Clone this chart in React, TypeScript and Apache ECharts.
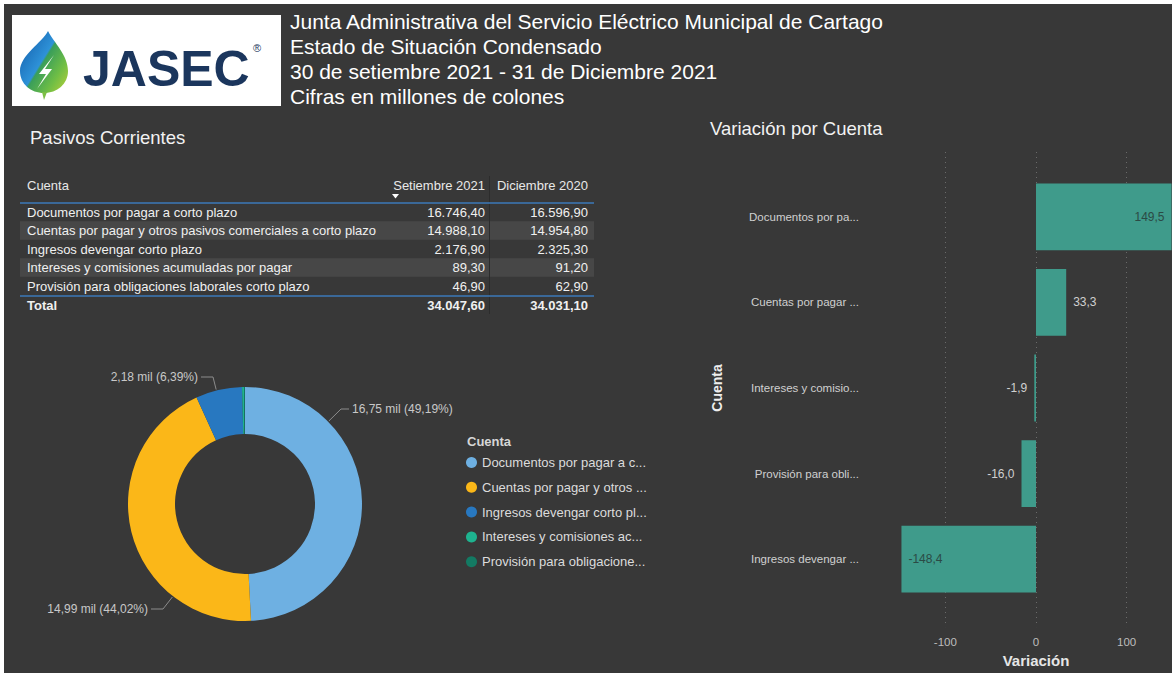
import React, { useEffect, useRef } from 'react';
import * as echarts from 'echarts';

const FF = 'Liberation Sans, Arial, sans-serif';

const titleLines = [
  'Junta Administrativa del Servicio Eléctrico Municipal de Cartago',
  'Estado de Situación Condensado',
  '30 de setiembre 2021 - 31 de Diciembre 2021',
  'Cifras en millones de colones',
];
const tableHeaders = ['Cuenta', 'Setiembre 2021', 'Diciembre 2020'];
const cuentas = [
  'Documentos por pagar a corto plazo',
  'Cuentas por pagar y otros pasivos comerciales a corto plazo',
  'Ingresos devengar corto plazo',
  'Intereses y comisiones acumuladas por pagar',
  'Provisión para obligaciones laborales corto plazo',
];
const legendLabels = [
  'Documentos por pagar a c...',
  'Cuentas por pagar y otros ...',
  'Ingresos devengar corto pl...',
  'Intereses y comisiones ac...',
  'Provisión para obligacione...',
];
const setiembre2021 = [16746.4, 14988.1, 2176.9, 89.3, 46.9];
const diciembre2020 = [16596.9, 14954.8, 2325.3, 91.2, 62.9];
const pieColors = ['#6eb0e2', '#fbb718', '#2878c0', '#1eb38f', '#137a63'];

const barCategories = [
  'Documentos por pagar a corto plazo',
  'Cuentas por pagar y otros pasivos comerciales a corto plazo',
  'Intereses y comisiones acumuladas por pagar',
  'Provisión para obligaciones laborales corto plazo',
  'Ingresos devengar corto plazo',
];
const barCategoryLabels = [
  'Documentos por pa...',
  'Cuentas por pagar ...',
  'Intereses y comisio...',
  'Provisión para obli...',
  'Ingresos devengar ...',
];
const variacion = [149.5, 33.3, -1.9, -16.0, -148.4];
const xTickValues = [-100, 0, 100];

function fmtEs(v: number, d: number): string {
  const s = Math.abs(v).toFixed(d);
  const [i, f] = s.split('.');
  const ii = i.replace(/\B(?=(\d{3})+(?!\d))/g, '.');
  return (v < 0 ? '-' : '') + ii + (f ? ',' + f : '');
}

let registered = false;
function registerShapes() {
  if (registered) return;
  registered = true;
  const drop = echarts.graphic.extendPath(
    'M28,0 C34,12 48,24 48,40 C48,53 37,62 24,62 C11,62 0,53 0,40 C0,24 22,12 28,0 Z',
    {}
  );
  echarts.graphic.registerShape('jasecDrop', drop);
}

function txt(x: number, y: number, text: string, size: number, fill: string, opts: any = {}) {
  const weight = opts.bold ? 'bold ' : '';
  return {
    type: 'text',
    x,
    y,
    silent: true,
    style: {
      text,
      font: `${weight}${size}px ${FF}`,
      fill,
      align: opts.align || 'left',
      textAlign: opts.align || 'left',
      verticalAlign: 'middle',
      textVerticalAlign: 'middle',
    },
  };
}

function buildGraphic(): any[] {
  const g: any[] = [];
  // logo
  g.push({ type: 'rect', silent: true, shape: { x: 12, y: 15, width: 269, height: 91 }, style: { fill: '#ffffff' } });
  g.push({
    type: 'jasecDrop',
    x: 20,
    y: 31,
    silent: true,
    style: {
      fill: {
        type: 'linear', x: 0, y: 0.15, x2: 1, y2: 0.95,
        colorStops: [
          { offset: 0, color: '#1460ad' },
          { offset: 0.44, color: '#2e92d8' },
          { offset: 0.47, color: '#3a9e5a' },
          { offset: 0.75, color: '#6fbe45' },
          { offset: 1, color: '#b5cf3a' },
        ],
      },
    },
  });
  g.push({ type: 'polygon', silent: true, shape: { points: [[42, 92], [47, 92], [44, 100]] }, style: { fill: '#7cbf45' } });
  g.push({
    type: 'polygon',
    silent: true,
    shape: { points: [[54, 55], [39, 74], [46, 74], [37, 89], [52, 69], [45, 69]] },
    style: { fill: '#ffffff' },
  });
  g.push(txt(83, 69, 'JASEC', 50, '#1b365d', { bold: true }));
  g.push(txt(253, 48, '®', 11, '#1b365d'));

  // titles
  titleLines.forEach((t, i) => g.push(txt(290, 21 + i * 25, t, 21, '#ffffff')));
  g.push(txt(30, 137, 'Pasivos Corrientes', 18.5, '#f2f2f2'));
  g.push(txt(710, 128, 'Variación por Cuenta', 18.5, '#f2f2f2'));

  // table
  const colRight = [0, 485, 588];
  const rowY0 = 212;
  const rowStep = 18.5;
  const fs = 13;
  cuentas.forEach((_, i) => {
    if (i % 2 === 1) {
      g.push({ type: 'rect', silent: true, shape: { x: 20, y: rowY0 + i * rowStep - 9.25, width: 574, height: rowStep }, style: { fill: '#474747' } });
    }
  });
  g.push({ type: 'line', silent: true, shape: { x1: 489.5, y1: 176, x2: 489.5, y2: 314 }, style: { stroke: '#2c2c2c', lineWidth: 1 } });
  g.push(txt(27, 185, tableHeaders[0], fs, '#e8e8e8'));
  g.push(txt(colRight[1], 185, tableHeaders[1], fs, '#e8e8e8', { align: 'right' }));
  g.push(txt(colRight[2], 185, tableHeaders[2], fs, '#e8e8e8', { align: 'right' }));
  g.push({ type: 'polygon', silent: true, shape: { points: [[392, 194], [399, 194], [395.5, 198.5]] }, style: { fill: '#ffffff' } });
  g.push({ type: 'line', silent: true, shape: { x1: 20, y1: 203, x2: 594, y2: 203 }, style: { stroke: '#3b78b8', lineWidth: 1.5 } });
  cuentas.forEach((c, i) => {
    const y = rowY0 + i * rowStep;
    g.push(txt(27, y, c, fs, '#f0f0f0'));
    g.push(txt(colRight[1], y, fmtEs(setiembre2021[i], 2), fs, '#f0f0f0', { align: 'right' }));
    g.push(txt(colRight[2], y, fmtEs(diciembre2020[i], 2), fs, '#f0f0f0', { align: 'right' }));
  });
  g.push({ type: 'line', silent: true, shape: { x1: 20, y1: 296, x2: 594, y2: 296 }, style: { stroke: '#3b78b8', lineWidth: 1.5 } });
  const tot1 = setiembre2021.reduce((a, b) => a + b, 0);
  const tot2 = diciembre2020.reduce((a, b) => a + b, 0);
  g.push(txt(27, 305, 'Total', fs, '#f0f0f0', { bold: true }));
  g.push(txt(colRight[1], 305, fmtEs(tot1, 2), fs, '#f0f0f0', { bold: true, align: 'right' }));
  g.push(txt(colRight[2], 305, fmtEs(tot2, 2), fs, '#f0f0f0', { bold: true, align: 'right' }));

  // legend title
  g.push(txt(467, 441, 'Cuenta', 13, '#d6d6d6', { bold: true }));
  return g;
}

const PIE_CX = 245;
const PIE_CY = 504;
const PIE_R = [70, 117];
// label anchor offsets relative to pie centre: [dx, dy, align, elbow length]
const pieLabelOffsets: [number, number, string, number][] = [
  [107, -95, 'left', 8],
  [-97, 105, 'right', 12],
  [-47, -127, 'right', 12],
];

function pieLabelLayout(p: any) {
  const o = pieLabelOffsets[p.dataIndex];
  if (!o) return {};
  const lx = PIE_CX + o[0];
  const ly = PIE_CY + o[1];
  const dir = o[2] === 'left' ? -1 : 1;
  const end = [lx + dir * 3, ly];
  const elbow = [lx + dir * (3 + o[3]), ly];
  const dx = elbow[0] - PIE_CX;
  const dy = elbow[1] - PIE_CY;
  const len = Math.sqrt(dx * dx + dy * dy);
  const r = PIE_R[1] + 1;
  const start = [PIE_CX + (dx / len) * r, PIE_CY + (dy / len) * r];
  return { x: lx, y: ly, align: o[2], verticalAlign: 'middle', labelLinePoints: [start, elbow, end] };
}

function buildOption(): any {
  return {
    animation: false,
    backgroundColor: 'transparent',
    textStyle: { fontFamily: FF },
    graphic: { elements: buildGraphic() },
    legend: {
      orient: 'vertical',
      left: 466,
      top: 456,
      padding: 0,
      icon: 'circle',
      itemWidth: 11,
      itemHeight: 11,
      itemGap: 11.8,
      selectedMode: false,
      data: cuentas,
      formatter: (name: string) => legendLabels[cuentas.indexOf(name)],
      textStyle: { color: '#dcdcdc', fontSize: 13, fontFamily: FF },
    },
    grid: [
      { left: 900, top: 174, width: 272, height: 428 },
      { left: 900, top: 152, width: 272, height: 478 },
    ],
    xAxis: [
      { gridIndex: 0, type: 'value', min: -150, max: 150, interval: 50, show: false },
      {
        gridIndex: 1,
        type: 'value',
        min: -150,
        max: 150,
        interval: 50,
        axisLine: { show: false },
        axisTick: { show: false, customValues: xTickValues },
        axisLabel: { customValues: xTickValues, color: '#bdbdbd', fontSize: 11.5, margin: 9 },
        splitLine: { show: true, lineStyle: { color: '#6a6a6a', type: [1, 4], width: 1 } },
        name: 'Variación',
        nameLocation: 'middle',
        nameGap: 22,
        nameTextStyle: { color: '#e6e6e6', fontSize: 15, fontWeight: 'bold' },
      },
    ],
    yAxis: [
      {
        gridIndex: 0,
        type: 'category',
        data: barCategories,
        inverse: true,
        axisLine: { show: false },
        axisTick: { show: false },
        splitLine: { show: false },
        axisLabel: {
          color: '#d0d0d0',
          fontSize: 11.5,
          margin: 41,
          formatter: (v: string) => barCategoryLabels[barCategories.indexOf(v)],
        },
        name: 'Cuenta',
        nameLocation: 'middle',
        nameRotate: 90,
        nameGap: 176,
        nameTextStyle: { color: '#eeeeee', fontSize: 14, fontWeight: 'bold' },
      },
      { gridIndex: 1, type: 'value', min: 0, max: 1, show: false },
    ],
    series: [
      {
        type: 'pie',
        name: 'Cuenta',
        center: [PIE_CX, PIE_CY],
        radius: PIE_R,
        startAngle: 90,
        clockwise: true,
        minShowLabelAngle: 3,
        avoidLabelOverlap: false,
        data: cuentas.map((c, i) => ({ name: c, value: setiembre2021[i], itemStyle: { color: pieColors[i] } })),
        label: {
          show: true,
          color: '#c8c8c8',
          fontSize: 12,
          formatter: (p: any) => `${fmtEs(p.value / 1000, 2)} mil (${fmtEs(p.percent, 2)}%)`,
        },
        labelLine: { show: true, length: 10, length2: 12, lineStyle: { color: '#8c8c8c', width: 1 } },
        labelLayout: pieLabelLayout,
        emphasis: { disabled: true },
      },
      {
        type: 'bar',
        xAxisIndex: 0,
        yAxisIndex: 0,
        barCategoryGap: '22%',
        itemStyle: { color: '#3f9b8b' },
        emphasis: { disabled: true },
        label: {
          show: true,
          fontSize: 12,
          distance: 7,
          formatter: (p: any) => fmtEs(p.value, 1),
        },
        data: variacion.map((v) => {
          const big = Math.abs(v) > 100;
          return {
            value: v,
            label: {
              position: big ? (v > 0 ? 'insideRight' : 'insideLeft') : v > 0 ? 'right' : 'left',
              color: big ? '#2b4a45' : '#d0d0d0',
            },
          };
        }),
      },
    ],
  };
}

export default function App() {
  const ref = useRef<HTMLDivElement>(null);
  useEffect(() => {
    registerShapes();
    const chart = echarts.init(ref.current as HTMLDivElement, null, { renderer: 'svg' });
    chart.setOption(buildOption());
    return () => chart.dispose();
  }, []);
  return (
    <div
      ref={ref}
      style={{
        position: 'absolute',
        left: 0,
        top: 0,
        width: 1172,
        height: 673,
        background: 'linear-gradient(#383838, #383838) 4px 4px / 1168px 669px no-repeat, #ffffff',
      }}
    />
  );
}
